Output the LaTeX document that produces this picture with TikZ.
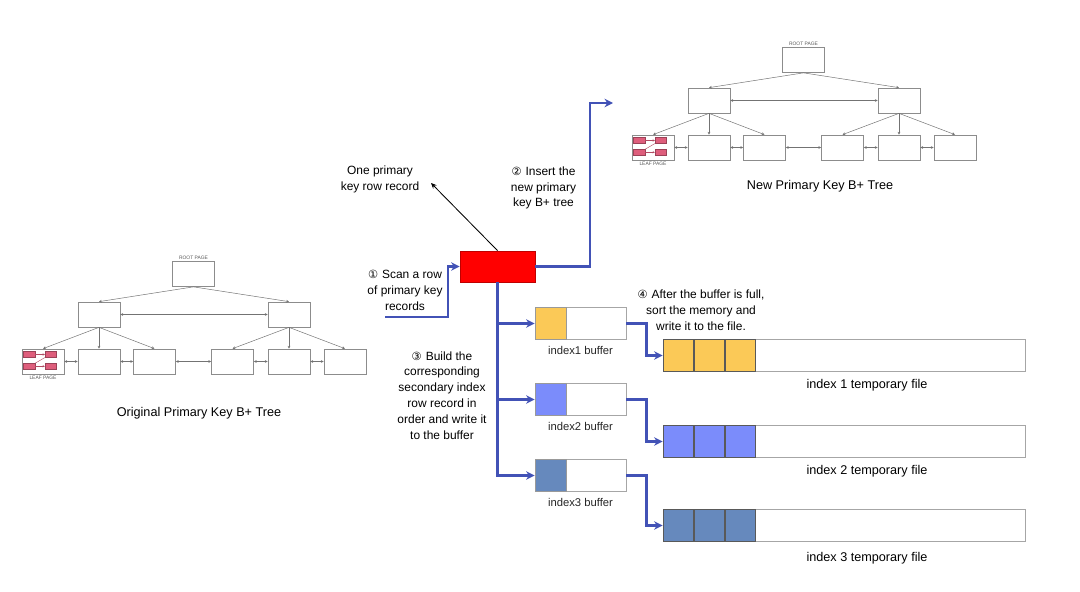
\documentclass[tikz,border=0pt]{standalone}
\usepackage{fontspec}
\setmainfont{Liberation Sans}
\newfontfamily\circfont{DejaVu Sans}
\usetikzlibrary{arrows.meta, positioning}

\definecolor{flowblue}{HTML}{4252B6}
\definecolor{bufyellow}{HTML}{FBC957}
\definecolor{bufblue}{HTML}{7B8CFB}
\definecolor{bufsteel}{HTML}{6689BD}
\definecolor{pagegray}{HTML}{8C8C8C}
\definecolor{leafpink}{HTML}{DE5E7C}
\definecolor{recred}{HTML}{FF0000}

\newcommand{\circnum}[1]{{\circfont\fontsize{8}{10}\selectfont #1}\,\,}

\tikzset{
  page/.style={draw=pagegray, line width=0.5pt, minimum width=1.05cm, minimum height=0.625cm, inner sep=0pt},
  pagelbl/.style={font=\fontsize{3.5}{4}\selectfont, text=black!65, inner sep=0.5pt},
  leafcell/.style={draw=leafpink!70!black, fill=leafpink, line width=0.3pt, minimum width=0.29cm, minimum height=0.145cm, inner sep=0pt},
  treearrow/.style={draw=black!55, line width=0.35pt, -{Stealth[length=2pt,width=2pt]}},
  treelink/.style={draw=black!55, line width=0.35pt, {Stealth[length=2pt,width=2pt]}-{Stealth[length=2pt,width=2pt]}},
  flow/.style={draw=flowblue, line width=1.5pt, -{Stealth[length=6pt,width=6pt]}},
  buffer/.style={draw=black!35, line width=0.6pt, minimum width=2.275cm, minimum height=0.78cm, inner sep=0pt},
  bufcell/.style={draw=black!40, line width=0.6pt, minimum width=0.775cm, minimum height=0.78cm, inner sep=0pt},
  tmpfile/.style={draw=black!35, line width=0.6pt, minimum width=9.05cm, minimum height=0.8cm, inner sep=0pt},
  filecell/.style={draw=black!65, line width=0.5pt, minimum width=0.76cm, minimum height=0.8cm, inner sep=0pt},
  note/.style={align=center, font=\fontsize{8.5}{11.3}\selectfont, inner sep=1pt},
}

\begin{document}
\begin{tikzpicture}[x=0.025cm, y=-0.025cm, font=\fontsize{9}{11}\selectfont]
\useasboundingbox (0,0) rectangle (1080,592);

% the two B+ trees (original and new)
\foreach \t/\dx/\dy in {o/0/0, n/610/-214}{
  \begin{scope}[shift={(\dx,\dy)}]
    \node[page] (\t-root) at (193.5,274) {};
    \node[pagelbl, above=0.3pt of \t-root] (\t-rootlbl) {ROOT PAGE};
    \node[page] (\t-ml) at (99,314.5) {};
    \node[page] (\t-mr) at (289,314.5) {};
    \foreach \k/\lx in {1/43, 2/99, 3/154.5, 4/232.5, 5/289, 6/345}
      \node[page] (\t-l\k) at (\lx,361.5) {};
    \node[pagelbl, below=0.8pt of \t-l1] (\t-leaflbl) {LEAF PAGE};

    \draw[treearrow] (\t-root.south) -- (\t-ml.north);
    \draw[treearrow] (\t-root.south) -- (\t-mr.north);
    \draw[treelink] (\t-ml.east) -- (\t-mr.west);
    \draw[treearrow] (\t-ml.south) -- (\t-l1.north);
    \draw[treearrow] (\t-ml.south) -- (\t-l2.north);
    \draw[treearrow] (\t-ml.south) -- (\t-l3.north);
    \draw[treearrow] (\t-mr.south) -- (\t-l4.north);
    \draw[treearrow] (\t-mr.south) -- (\t-l5.north);
    \draw[treearrow] (\t-mr.south) -- (\t-l6.north);
    \draw[treelink] (\t-l1.east) -- (\t-l2.west);
    \draw[treelink] (\t-l2.east) -- (\t-l3.west);
    \draw[treelink] (\t-l3.east) -- (\t-l4.west);
    \draw[treelink] (\t-l4.east) -- (\t-l5.west);
    \draw[treelink] (\t-l5.east) -- (\t-l6.west);

    % rows inside the leaf page
    \node[leafcell] (\t-c1) at (29.2,354.5) {};
    \node[leafcell] (\t-c2) at (50.8,354.5) {};
    \node[leafcell] (\t-c3) at (29.2,366.3) {};
    \node[leafcell] (\t-c4) at (50.8,366.3) {};
    \draw[leafpink!80!black, line width=0.3pt, -{Stealth[length=1.5pt,width=1.5pt]}] (\t-c1.east) -- (\t-c2.west);
    \draw[leafpink!80!black, line width=0.3pt, -{Stealth[length=1.5pt,width=1.5pt]}] (\t-c3.east) -- (\t-c4.west);
    \draw[leafpink!80!black, line width=0.3pt] (\t-c2.south west) -- (\t-c3.north east);
  \end{scope}
}
\node (oldname) at (199,413) {Original Primary Key B+ Tree};
\node (newname) at (820,186) {New Primary Key B+ Tree};

% the row record
\node[draw=recred!75!black, fill=recred, line width=0.6pt, minimum width=1.875cm, minimum height=0.775cm, inner sep=0pt] (rec) at (497.5,266.5) {};

\node[note] (rowlbl) at (380,179.5) {One primary\\key row record};
\coordinate (rowtip) at (431,183);
\draw[line width=0.6pt, -{Stealth[length=4pt,width=3.5pt]}] (rec.north) -- (rowtip);

\node[note] (scanlbl) at (405,290) {\circnum{①}Scan a row\\of primary key\\records};
\coordinate (scanin) at (385,317);
\draw[flow] (scanin) -| ([xshift=-0.3cm]rec.west) -- (rec.west);

\node[note] (insertlbl) at (543.5,188) {\circnum{②}Insert the\\new primary\\key B+ tree};
\coordinate (newin) at (613,103);
\draw[flow] (rec.east) -| ([xshift=-0.575cm]newin) -- (newin);

\node[note] (buildlbl) at (442,395.5) {\circnum{③}Build the\\corresponding\\secondary index\\row record in\\order and write it\\to the buffer};
\node[note] (sortlbl) at (701,310) {\circnum{④}After the buffer is full,\\sort the memory and\\write it to the file.};

% buffers and temporary files
\foreach \i/\col/\by/\fy/\ly in {1/bufyellow/323.5/355.5/385, 2/bufblue/399.5/441.5/471, 3/bufsteel/475.5/525.5/558}{
  \node[buffer] (buf\i) at (580.5,\by) {};
  \node[bufcell, fill=\col, anchor=west] (bc\i) at (buf\i.west) {};
  \node[below=1.5pt of buf\i, font=\fontsize{8}{10}\selectfont, text=black!85] (buflbl\i) {index\i\ buffer};

  \node[tmpfile] (file\i) at (844,\fy) {};
  \node[filecell, fill=\col, anchor=west] (fa\i) at (file\i.west) {};
  \node[filecell, fill=\col, right=0pt of fa\i] (fb\i) {};
  \node[filecell, fill=\col, right=0pt of fb\i] (fc\i) {};
  \node (filelbl\i) at (867,\ly) {index \i\ temporary file};

  \draw[flow] (rec.south) |- (buf\i.west);
  \draw[flow] (buf\i.east) -| ([xshift=-0.4cm]file\i.west) -- (file\i.west);
}
\end{tikzpicture}
\end{document}
